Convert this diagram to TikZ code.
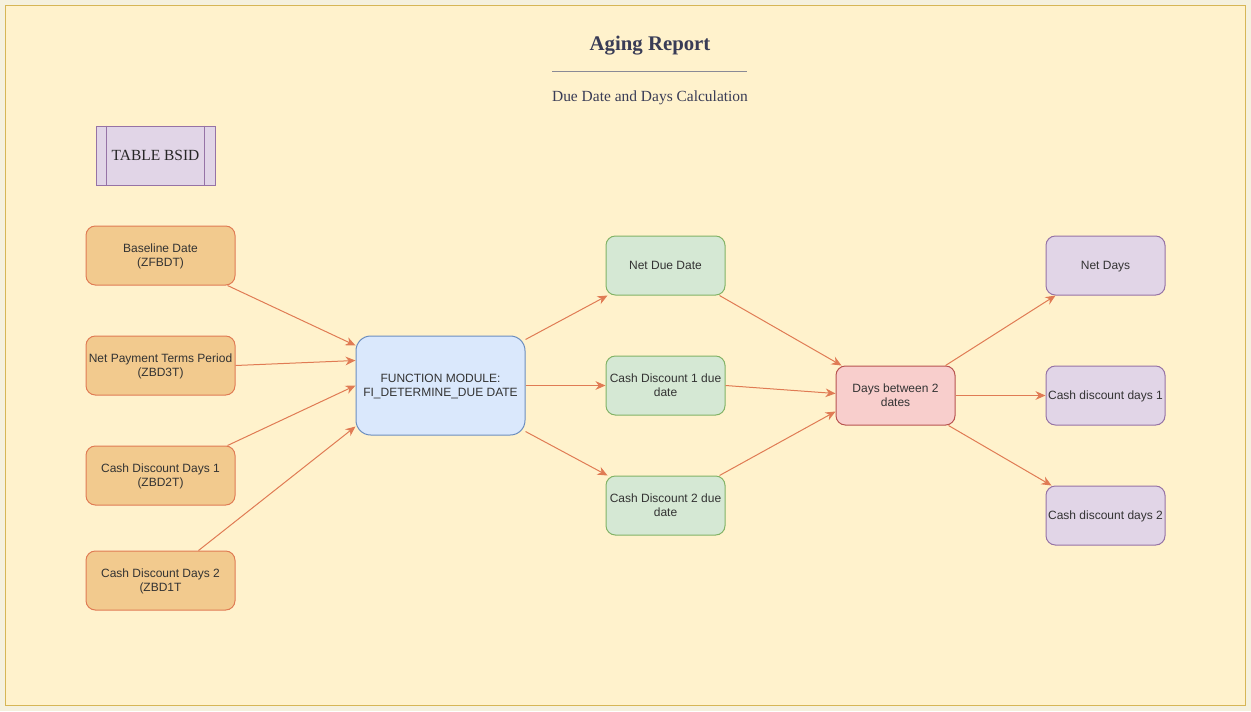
\documentclass[tikz,border=0pt]{standalone}
\usepackage{fontspec}
\setmainfont{Liberation Sans}
\newfontfamily\serifface{Liberation Serif}
\usetikzlibrary{arrows.meta,calc}

\definecolor{pagebg}{HTML}{F5F1DE}
\definecolor{panelfill}{HTML}{FFF2CC}
\definecolor{panelline}{HTML}{D6B656}
\definecolor{titleink}{HTML}{393C56}
\definecolor{ruleink}{HTML}{8A8A96}
\definecolor{textink}{HTML}{333333}
\definecolor{wire}{HTML}{E07B54}
\definecolor{orangefill}{HTML}{F2CA8E}
\definecolor{orangeline}{HTML}{E07B54}
\definecolor{bluefill}{HTML}{DAE8FC}
\definecolor{blueline}{HTML}{6C8EBF}
\definecolor{greenfill}{HTML}{D5E8D4}
\definecolor{greenline}{HTML}{82B366}
\definecolor{redfill}{HTML}{F8CECC}
\definecolor{redline}{HTML}{B85450}
\definecolor{purplefill}{HTML}{E1D5E7}
\definecolor{purpleline}{HTML}{9673A6}

\tikzset{
  box/.style={draw, line width=0.75pt, rounded corners=7pt, inner sep=0pt,
    align=center, text=textink, font=\fontsize{9}{10.5}\selectfont, text depth=-1pt},
  inbox/.style={box, fill=orangefill, draw=orangeline, minimum width=111.75pt, minimum height=44.25pt},
  fmbox/.style={box, fill=bluefill, draw=blueline, rounded corners=11pt, minimum width=126.75pt, minimum height=74.25pt},
  duebox/.style={box, fill=greenfill, draw=greenline, minimum width=89.25pt, minimum height=44.25pt},
  daysbox/.style={box, fill=redfill, draw=redline, minimum width=89.25pt, minimum height=44.25pt},
  outbox/.style={box, fill=purplefill, draw=purpleline, minimum width=89.25pt, minimum height=44.25pt},
  flow/.style={draw=wire, line width=0.75pt, -{Stealth[length=7.5pt,width=6.5pt]}}
}

\begin{document}
\begin{tikzpicture}[x=0.75pt, y=-0.75pt]
  % page and panel
  \fill[pagebg] (0,0) rectangle (1251,711);
  \draw[panelline, fill=panelfill, line width=0.75pt] (5.5,5.5) rectangle (1245.5,705.5);
  \useasboundingbox (0,0) rectangle (1251,711);

  % heading
  \node[font=\serifface\bfseries\fontsize{15.6}{18}\selectfont, text=titleink] (title) at (650,46) {Aging Report};
  \coordinate (ruleL) at (552,71);
  \coordinate (ruleR) at (747,71);
  \draw[ruleink, line width=0.75pt] (ruleL) -- (ruleR);
  \node[font=\serifface\fontsize{11.6}{14}\selectfont, text=titleink] (subtitle) at (650,97.5) {Due Date and Days Calculation};

  % source table
  \node[draw=purpleline, fill=purplefill, line width=0.75pt, minimum width=89.25pt, minimum height=44.25pt,
        inner sep=0pt, font=\serifface\fontsize{11.6}{13}\selectfont, text=black!85] (bsid) at (155.5,155.5) {TABLE BSID};
  \draw[purpleline, line width=0.75pt] ($(bsid.north west)+(11,0)$) -- ($(bsid.south west)+(11,0)$);
  \draw[purpleline, line width=0.75pt] ($(bsid.north east)+(-11,0)$) -- ($(bsid.south east)+(-11,0)$);

  % inputs
  \node[inbox] (bd)  at (160.5,255.5) {Baseline Date\\(ZFBDT)};
  \node[inbox] (np)  at (160.5,365.5) {Net Payment Terms Period\\(ZBD3T)};
  \node[inbox] (cd1) at (160.5,475.5) {Cash Discount Days 1\\(ZBD2T)};
  \node[inbox] (cd2) at (160.5,580.5) {Cash Discount Days 2\\(ZBD1T};

  % function module
  \node[fmbox] (fm) at (440.5,385.5) {FUNCTION MODULE:\\FI\_DETERMINE\_DUE DATE};

  % due dates
  \node[duebox] (nd)  at (665.5,265.5) {Net Due Date};
  \node[duebox] (c1d) at (665.5,385.5) {Cash Discount 1 due\\date};
  \node[duebox] (c2d) at (665.5,505.5) {Cash Discount 2 due\\date};

  % day difference
  \node[daysbox] (db) at (895.5,395.5) {Days between 2\\dates};

  % results
  \node[outbox] (ndays) at (1105.5,265.5) {Net Days};
  \node[outbox] (cdd1)  at (1105.5,395.5) {Cash discount days 1};
  \node[outbox] (cdd2)  at (1105.5,515.5) {Cash discount days 2};

  % connectors
  \draw[flow] ($(bd.south east)+(-8,0)$) -- ($(fm.north west)+(0,10)$);
  \draw[flow] (np.east) -- ($(fm.west)+(0,-25)$);
  \draw[flow] ($(cd1.north east)+(-8,0)$) -- (fm.west);
  \draw[flow] ($(cd2.north)+(38,0)$) -- ($(fm.south west)+(0,-9)$);

  \draw[flow] ($(fm.north east)+(0,4)$) -- ($(nd.south west)+(2,0)$);
  \draw[flow] (fm.east) -- (c1d.west);
  \draw[flow] ($(fm.south east)+(0,-4)$) -- ($(c2d.north west)+(2,0)$);

  \draw[flow] ($(nd.south east)+(-6,0)$) -- ($(db.north west)+(6,0)$);
  \draw[flow] (c1d.east) -- ($(db.west)+(0,-2)$);
  \draw[flow] ($(c2d.north east)+(-6,0)$) -- ($(db.west)+(0,16)$);

  \draw[flow] ($(db.north east)+(-10,0)$) -- ($(ndays.south west)+(10,0)$);
  \draw[flow] (db.east) -- (cdd1.west);
  \draw[flow] ($(db.south east)+(-7,0)$) -- ($(cdd2.north west)+(6,0)$);
\end{tikzpicture}
\end{document}
